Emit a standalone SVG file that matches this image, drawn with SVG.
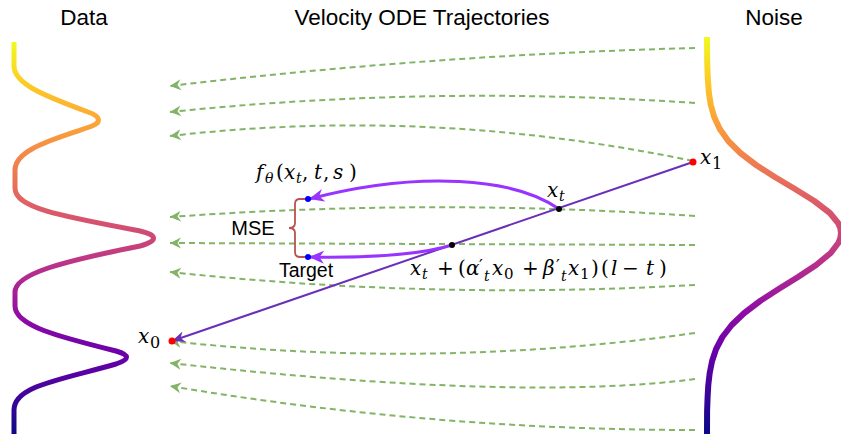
<svg xmlns="http://www.w3.org/2000/svg" width="841" height="434" viewBox="0 0 841 434">
<style>
.t{font-family:"Liberation Sans",Arial,sans-serif;fill:#000}
.m{font-family:"DejaVu Serif","Liberation Serif",serif;font-style:italic;font-size:20px;fill:#000}
.u{font-style:normal}
.s{font-size:14px}
.pr{font-style:normal;font-size:17px}
.g{fill:none;stroke:#82b366;stroke-width:2;stroke-dasharray:6 4;marker-end:url(#ag)}
.p{fill:none;stroke:#9933ff;stroke-width:3;marker-end:url(#ap)}
</style>
<defs>
<linearGradient id="gd" gradientUnits="userSpaceOnUse" x1="0" y1="42" x2="0" y2="434">
<stop offset="0" stop-color="#f0f921"/><stop offset="0.1" stop-color="#fcce25"/><stop offset="0.2" stop-color="#fca636"/><stop offset="0.3" stop-color="#f2844b"/><stop offset="0.4" stop-color="#e16462"/><stop offset="0.5" stop-color="#cc4778"/><stop offset="0.6" stop-color="#b12a90"/><stop offset="0.7" stop-color="#8f0da4"/><stop offset="0.8" stop-color="#6a00a8"/><stop offset="0.9" stop-color="#41049d"/><stop offset="1" stop-color="#0d0887"/>
</linearGradient>
<linearGradient id="gn" gradientUnits="userSpaceOnUse" x1="0" y1="37" x2="0" y2="428">
<stop offset="0" stop-color="#f0f921"/><stop offset="0.1" stop-color="#fcce25"/><stop offset="0.2" stop-color="#fca636"/><stop offset="0.3" stop-color="#f2844b"/><stop offset="0.4" stop-color="#e16462"/><stop offset="0.5" stop-color="#cc4778"/><stop offset="0.6" stop-color="#b12a90"/><stop offset="0.7" stop-color="#8f0da4"/><stop offset="0.8" stop-color="#6a00a8"/><stop offset="0.9" stop-color="#41049d"/><stop offset="1" stop-color="#0d0887"/>
</linearGradient>
<marker id="ag" markerUnits="userSpaceOnUse" markerWidth="12" markerHeight="12" refX="11" refY="6" orient="auto"><path d="M11,6 L0,0.5 L3.5,6 L0,11.5 Z" fill="#82b366"/></marker>
<marker id="ap" markerUnits="userSpaceOnUse" markerWidth="16" markerHeight="14" refX="15" refY="7" orient="auto"><path d="M15,7 L0,0.5 L4.5,7 L0,13.5 Z" fill="#9933ff"/></marker>
<marker id="al" markerUnits="userSpaceOnUse" markerWidth="14" markerHeight="12" refX="13" refY="6" orient="auto"><path d="M13,6 L0,0.5 L4,6 L0,11.5 Z" fill="#6a2fb8"/></marker>
</defs>

<g id="titles" class="t" font-size="22.5" text-anchor="middle">
<text x="84" y="25">Data</text>
<text x="422" y="25">Velocity ODE Trajectories</text>
<text x="774" y="25">Noise</text>
</g>

<g id="data">
<path d="M14,42 L14,66 C14,84 45,96 88,112 C100,116 102,122 92,126 C60,138 15,148 15,170 L15,188 C15,208 60,216 140,231 C158,235 158,241 140,246 C60,262 15,274 15,292 L15,306 C15,326 60,337 116,351 C130,355 130,359 116,364 C60,380 14,386 14,410 L14,434" fill="none" stroke="url(#gd)" stroke-width="5" stroke-linejoin="round"/>
</g>

<g id="noise">
<path d="M707,37 L707.2,61 L707.7,77 L708.9,93 L710.8,105 L714.2,117 L719.8,129 L728.3,141 L740.4,153 L756.1,165 L774.8,177 L795,189 L814.3,201 L829.9,213 L838.1,223 L840.3,228 L841,233 L840.3,238 L838.3,243 L830.7,253 L816.2,265 L798,277 L778.6,289 L760.1,301 L744.3,313 L731.7,325 L722.4,337 L716.1,349 L712.1,361 L709.7,373 L708.3,385 L707.6,397 L707.1,411 L707,434" fill="none" stroke="url(#gn)" stroke-width="6" stroke-linejoin="round"/>
</g>

<g id="connectors">
<path class="g" d="M695,48 Q430,55 170,86"/>
<path class="g" d="M695,103 Q430,85 170,112"/>
<path class="g" d="M693,161 Q430,106 170,136"/>
<path class="g" d="M695,216 Q430,198 170,217"/>
<path class="g" d="M695,245 L170,243"/>
<path class="g" d="M695,285 Q430,300 170,272"/>
<path class="g" d="M695,333 Q430,370 170,341"/>
<path class="g" d="M695,379 Q520,402 170,363"/>
<path class="g" d="M695,430 Q430,430 170,386"/>
<path d="M693,162 L172,341" fill="none" stroke="#6a2fb8" stroke-width="2" marker-end="url(#al)"/>
<path class="p" d="M559,209 C515,178 420,170 309,199"/>
<path class="p" d="M452,245 C420,255 370,258 309,257"/>
<path id="brace" d="M307,199 L300,199 Q295,199 295,204 L295,223 Q295,228 289,228 Q295,228 295,233 L295,252 Q295,257 300,257 L307,257" fill="none" stroke="#b85450" stroke-width="1.8"/>
</g>

<g id="x1">
<circle cx="693" cy="162" r="3.5" fill="#ff0000"/>
<text class="m"><tspan x="700" y="164">x</tspan><tspan class="u" x="712" y="169" font-size="16">1</tspan></text>
</g>
<g id="x0">
<circle cx="172" cy="341" r="3.5" fill="#ff0000"/>
<text class="m"><tspan x="138" y="343">x</tspan><tspan class="u" x="150" y="348" font-size="16">0</tspan></text>
</g>
<g id="xt">
<circle cx="559" cy="209" r="3" fill="#000"/>
<text class="m"><tspan x="547" y="197">x</tspan><tspan class="s" x="559" y="201">t</tspan></text>
</g>
<g id="xstep">
<circle cx="452" cy="245" r="3" fill="#000"/>
<text class="m"><tspan x="410" y="275">x</tspan><tspan class="s" x="422" y="279">t</tspan><tspan class="u" x="437" y="275">+</tspan><tspan class="u" x="458" y="275">(</tspan><tspan x="466" y="275">α</tspan><tspan class="pr" x="479" y="271">′</tspan><tspan class="s" x="484" y="281">t</tspan><tspan x="492" y="275">x</tspan><tspan class="u" x="504" y="279" font-size="15">0</tspan><tspan class="u" x="522" y="275">+</tspan><tspan x="543" y="275">β</tspan><tspan class="pr" x="556" y="271">′</tspan><tspan class="s" x="561" y="281">t</tspan><tspan x="568" y="275">x</tspan><tspan class="u" x="580" y="279" font-size="15">1</tspan><tspan class="u" x="591" y="275">)</tspan><tspan class="u" x="601" y="275">(</tspan><tspan x="611" y="275">l</tspan><tspan class="u" x="622" y="275">−</tspan><tspan x="646" y="275">t</tspan><tspan class="u" x="659" y="275">)</tspan></text>
</g>
<g id="f">
<circle cx="308" cy="199" r="3" fill="#0000ff"/>
<text class="m"><tspan x="256" y="179">f</tspan><tspan class="s" x="265" y="183">θ</tspan><tspan class="u" x="276" y="179">(</tspan><tspan x="284" y="179">x</tspan><tspan class="s" x="296" y="183">t</tspan><tspan class="u" x="302" y="179">,</tspan><tspan x="314" y="179">t</tspan><tspan class="u" x="323" y="179">,</tspan><tspan x="333" y="179">s</tspan><tspan class="u" x="349" y="179">)</tspan></text>
</g>
<g id="target">
<circle cx="308" cy="257" r="3" fill="#0000ff"/>
<text class="t" x="306" y="277" font-size="19.5" text-anchor="middle">Target</text>
</g>
<g id="mse">
<text class="t" x="253" y="235" font-size="20" text-anchor="middle">MSE</text>
</g>
</svg>
